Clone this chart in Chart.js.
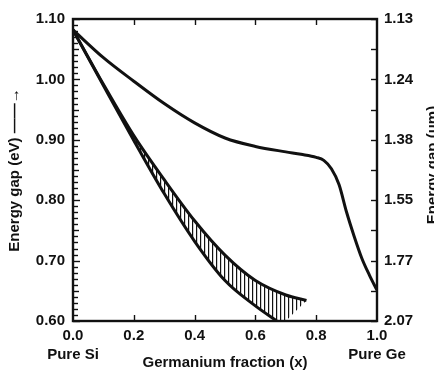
<!DOCTYPE html>
<html><head><meta charset="utf-8">
<script src="https://cdn.jsdelivr.net/npm/chart.js@4"></script>
<style>html,body{margin:0;padding:0;background:#fff}</style>
</head><body>
<canvas id="c" width="434" height="370" style="width:434px;height:370px;display:block"></canvas>
<script>
// ---- data ----
const unstrainedX = [0, 0.1, 0.2, 0.3, 0.4, 0.5, 0.6, 0.7, 0.75, 0.8, 0.825, 0.85, 0.875, 0.9, 0.925, 0.95, 0.975, 1.0];
const unstrainedE = [1.082, 1.036, 0.997, 0.960, 0.928, 0.903, 0.889, 0.880, 0.876, 0.871, 0.866, 0.852, 0.826, 0.780, 0.740, 0.704, 0.676, 0.651];
const bandUpperX = [0, 0.1, 0.2, 0.3, 0.4, 0.5, 0.6, 0.7, 0.768];
const bandUpperE = [1.082, 0.992, 0.907, 0.834, 0.766, 0.709, 0.667, 0.643, 0.634];
const bandLowerX = [0, 0.1, 0.2, 0.3, 0.4, 0.5, 0.6, 0.67];
const bandLowerE = [1.082, 0.990, 0.899, 0.811, 0.732, 0.667, 0.625, 0.600];
const bandEndX = [0.70];
const bandEndE = [0.60];
const xTickLabels = ['0.0', '0.2', '0.4', '0.6', '0.8', '1.0'];
const xEndNames = ['Pure Si', 'Pure Ge'];
const eVTickLabels = ['0.60', '0.70', '0.80', '0.90', '1.00', '1.10'];
const umTickLabels = ['2.07', '1.77', '1.55', '1.38', '1.24', '1.13'];
const xTitle = 'Germanium fraction (x)';
const yTitle = 'Energy gap (eV) \u2014\u2014\u2192';
const y2Title = 'Energy gap (\u03BCm)';

const FONT = "'Liberation Sans', Arial, sans-serif";
const INK = '#111';

const pts = (xs, ys) => xs.map((v, i) => ({x: v, y: ys[i]}));
const bandShape = [...pts(bandUpperX, bandUpperE), ...pts(bandEndX, bandEndE), ...pts(bandLowerX, bandLowerE).reverse()];

const canvas = document.getElementById('c');
const ctx = canvas.getContext('2d');
const pc = document.createElement('canvas');
pc.width = 4; pc.height = 4;
const pg = pc.getContext('2d');
pg.fillStyle = '#fff'; pg.fillRect(0, 0, 4, 4);
pg.strokeStyle = INK; pg.lineWidth = 1.2;
pg.beginPath(); pg.moveTo(0.6, 0); pg.lineTo(0.6, 4); pg.stroke();
const hatch = ctx.createPattern(pc, 'repeat');

const frameAndTicks = {
  id: 'frameAndTicks',
  afterDraw(chart) {
    const {ctx, chartArea: a, scales: {x, y, y2}} = chart;
    ctx.save();
    ctx.strokeStyle = INK;
    ctx.lineWidth = 1.4;
    const seg = (x1, y1, x2, y2_) => { ctx.beginPath(); ctx.moveTo(x1, y1); ctx.lineTo(x2, y2_); ctx.stroke(); };
    for (let i = 0; i <= 50; i++) {
      const py = Math.round(y.getPixelForValue(0.6 + i * 0.01)) + 0.5;
      const len = i % 10 === 0 ? 7 : (i % 5 === 0 ? 6 : 5);
      seg(a.left, py, a.left + len, py);
    }
    for (let i = 0; i <= 10; i++) {
      const py = Math.round(y2.getPixelForValue(0.6 + i * 0.05)) + 0.5;
      seg(a.right - 6, py, a.right, py);
    }
    for (let i = 1; i < 5; i++) {
      const px = Math.round(x.getPixelForValue(i * 0.2)) + 0.5;
      seg(px, a.bottom, px, a.bottom - 6);
      seg(px, a.top, px, a.top + 6);
    }
    ctx.lineWidth = 2.4;
    ctx.strokeRect(a.left, a.top, a.right - a.left, a.bottom - a.top);
    ctx.fillStyle = INK;
    ctx.font = 'bold 15px ' + FONT;
    ctx.translate(437, 165);
    ctx.rotate(-Math.PI / 2);
    ctx.textAlign = 'center';
    ctx.textBaseline = 'alphabetic';
    ctx.fillText(y2Title, 0, 0);
    ctx.restore();
  }
};

const tickFont = {family: FONT, size: 15, weight: 'bold'};

new Chart(canvas, {
  type: 'scatter',
  data: {
    datasets: [
      {data: pts(unstrainedX, unstrainedE), showLine: true, borderColor: INK, borderWidth: 3, pointRadius: 0, cubicInterpolationMode: 'monotone', fill: false},
      {data: pts(bandUpperX, bandUpperE), showLine: true, borderColor: INK, borderWidth: 3, pointRadius: 0, cubicInterpolationMode: 'monotone', fill: false},
      {data: pts(bandLowerX, bandLowerE), showLine: true, borderColor: INK, borderWidth: 3, pointRadius: 0, cubicInterpolationMode: 'monotone', fill: false},
      {data: bandShape, showLine: true, borderColor: 'rgba(0,0,0,0)', borderWidth: 0, pointRadius: 0, tension: 0, fill: 'shape', backgroundColor: hatch}
    ]
  },
  options: {
    responsive: false,
    animation: false,
    devicePixelRatio: 1,
    layout: {padding: {top: 19, left: 0, right: 0, bottom: 0}},
    plugins: {legend: {display: false}, tooltip: {enabled: false}},
    scales: {
      x: {
        type: 'linear', position: 'bottom', min: 0, max: 1,
        afterFit: s => { s.height = 49; },
        grid: {display: false, drawTicks: false}, border: {display: false},
        ticks: {
          stepSize: 0.2, padding: 5, maxRotation: 0, autoSkip: false, color: INK,
          font: {...tickFont, lineHeight: '19px'},
          callback: (v, i, arr) => i === 0 ? [xTickLabels[i], xEndNames[0]] : (i === arr.length - 1 ? [xTickLabels[i], xEndNames[1]] : xTickLabels[i])
        },
        title: {display: true, text: xTitle, color: INK, font: {family: FONT, size: 15, weight: 'bold', lineHeight: 1}, padding: {top: 0, bottom: -0.5}}
      },
      y: {
        type: 'linear', position: 'left', min: 0.6, max: 1.1,
        afterFit: s => { s.width = 73; },
        grid: {display: false, drawTicks: false}, border: {display: false},
        ticks: {stepSize: 0.1, padding: 8, color: INK, font: tickFont, callback: (v, i) => eVTickLabels[i]},
        title: {display: true, text: yTitle, color: INK, font: {family: FONT, size: 15, weight: 'bold', lineHeight: 1}, padding: {top: 7.5, bottom: 0}}
      },
      y2: {
        type: 'linear', position: 'right', min: 0.6, max: 1.1,
        afterFit: s => { s.width = 57; },
        grid: {display: false, drawTicks: false}, border: {display: false},
        ticks: {stepSize: 0.1, padding: 7, color: INK, font: tickFont, callback: (v, i) => umTickLabels[i]}
      }
    }
  },
  plugins: [frameAndTicks]
});
</script>
</body></html>
